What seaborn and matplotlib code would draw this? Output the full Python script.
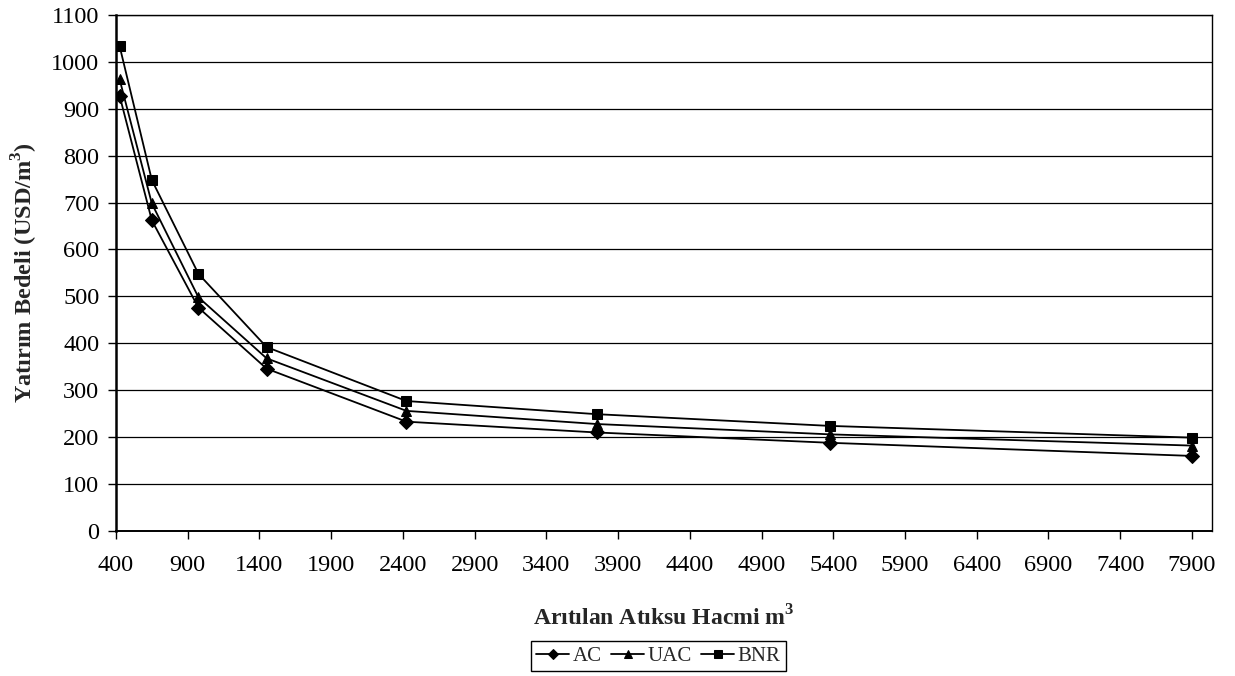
import numpy as np
import pandas as pd
import seaborn as sns
import matplotlib.pyplot as plt

# Treated wastewater volume (m3) and investment cost (USD/m3) per process
volume = [425, 650, 975, 1450, 2425, 3750, 5375, 7900]
ac = [928, 662, 476, 346, 233, 210, 188, 160]
uac = [963, 698, 498, 368, 256, 228, 206, 182]
bnr = [1034, 748, 548, 392, 277, 249, 224, 199]
series_names = ["AC", "UAC", "BNR"]

sns.set_theme(style="white")
plt.rcParams['font.family'] = ['Liberation Serif', 'DejaVu Serif']
plt.rcParams['mathtext.fontset'] = 'custom'
plt.rcParams['mathtext.rm'] = 'Liberation Serif'
plt.rcParams['mathtext.bf'] = 'Liberation Serif:bold'

df = pd.DataFrame({
    "volume": volume * 3,
    "cost": ac + uac + bnr,
    "series": np.repeat(series_names, len(volume)),
})

fig = plt.figure(figsize=(12.35, 6.76), dpi=100)
ax = fig.add_axes([0.0939, 0.2145, 0.8875, 0.7635])

sns.lineplot(data=df, x="volume", y="cost", hue="series", style="series",
             palette={"AC": "black", "UAC": "black", "BNR": "black"},
             markers={"AC": "D", "UAC": "^", "BNR": "s"}, dashes=False,
             markersize=7, linewidth=1.3, markeredgecolor="black",
             legend=True, ax=ax)

ax.set_xlim(400, 8040)
ax.set_ylim(0, 1100)
ax.set_xticks(np.arange(400, 8000, 500))
ax.set_yticks(np.arange(0, 1101, 100))
ax.yaxis.grid(True, color="black", linewidth=0.9)
ax.xaxis.grid(False)
for s in ax.spines.values():
    s.set_color("black")
    s.set_linewidth(1.0)
ax.spines['left'].set_linewidth(1.8)
ax.spines['bottom'].set_linewidth(1.4)
ax.tick_params(axis="both", which="major", labelsize=17.5, direction="out",
               length=6, width=1, color="black", labelcolor="black",
               bottom=True, left=True)
ax.tick_params(axis="x", pad=11)
ax.tick_params(axis="y", pad=6)

ax.set_xlabel(r"Arıtılan Atıksu Hacmi m$^\mathbf{3}$", fontsize=17,
              fontweight="bold", labelpad=21)
ax.set_ylabel(r"Yatırım Bedeli (USD/m$^\mathbf{3}$)", fontsize=17.5,
              fontweight="bold", labelpad=8)

handles, labels = ax.get_legend_handles_labels()
ax.legend(handles, labels, ncol=3, loc="center", bbox_to_anchor=(0.533, 0.029),
          bbox_transform=fig.transFigure, frameon=True, fancybox=False,
          edgecolor="black", fontsize=15, handlelength=1.6, handletextpad=0.15,
          columnspacing=0.45, borderpad=0.25, framealpha=1)
ax.get_legend().get_frame().set_linewidth(1.0)
for h in ax.get_legend().legend_handles:
    h.set_markersize(5.5)

fig.savefig("out.png", dpi=100)
